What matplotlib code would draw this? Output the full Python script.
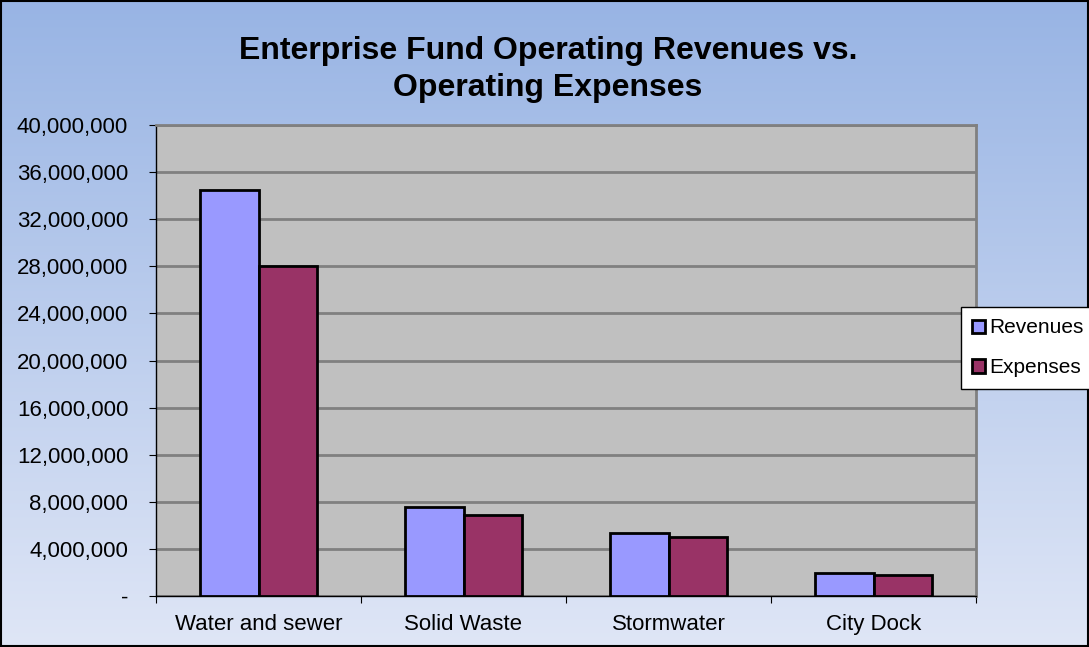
import matplotlib.pyplot as plt
import numpy as np
from matplotlib.ticker import FuncFormatter
from matplotlib.colors import LinearSegmentedColormap

plt.rcParams['font.family'] = ['Liberation Sans', 'DejaVu Sans']

categories = ['Water and sewer', 'Solid Waste', 'Stormwater', 'City Dock']
revenues = [34500000, 7550000, 5350000, 1950000]
expenses = [28000000, 6900000, 5000000, 1780000]

fig = plt.figure(figsize=(10.89, 6.47), dpi=100)

# gradient background
bg = fig.add_axes([0, 0, 1, 1], zorder=-10)
cmap = LinearSegmentedColormap.from_list('bg', ['#dfe6f6', '#98b4e4'])
bg.imshow(np.linspace(0, 1, 256).reshape(-1, 1), aspect='auto', cmap=cmap,
          origin='lower', extent=[0, 1, 0, 1])
bg.set_xlim(0, 1)
bg.set_ylim(0, 1)
bg.axis('off')
fig.patches.append(plt.Rectangle((0.001, 0.001), 0.998, 0.997, transform=fig.transFigure,
                                 fill=False, edgecolor='black', linewidth=1.5))

ax = fig.add_axes([156/1089, 1 - 596/647, (976-156)/1089, (596-125)/647])
ax.set_facecolor('#c0c0c0')

x = np.arange(len(categories))
w = 0.285
ax.bar(x - w/2, revenues, w, color='#9999ff', edgecolor='black', linewidth=2, label='Revenues', zorder=3)
ax.bar(x + w/2, expenses, w, color='#993366', edgecolor='black', linewidth=2, label='Expenses', zorder=3)

ax.set_xlim(-0.5, len(categories) - 0.5)
ax.set_ylim(0, 40000000)
ax.set_yticks(np.arange(0, 40000001, 4000000))
ax.yaxis.set_major_formatter(FuncFormatter(lambda v, p: '-' if v == 0 else f'{int(v):,}'))
ax.set_xticks(np.arange(len(categories) + 1) - 0.5, minor=False)
ax.set_xticklabels([])
ax.set_xticks(x, minor=True)
ax.set_xticklabels(categories, minor=True, fontsize=16)
ax.tick_params(axis='x', which='minor', length=0, pad=13)
ax.tick_params(axis='x', which='major', length=5, direction='out')
ax.tick_params(axis='y', labelsize=16, length=5, pad=15)
ax.yaxis.grid(True, color='#808080', linewidth=2)
ax.set_axisbelow(True)
for s in ['top', 'right']:
    ax.spines[s].set_color('#808080')
    ax.spines[s].set_linewidth(2)
for s in ['left', 'bottom']:
    ax.spines[s].set_color('black')
    ax.spines[s].set_linewidth(1)

fig.text(0.503, 0.892, 'Enterprise Fund Operating Revenues vs.\nOperating Expenses',
         ha='center', va='center', fontsize=23, fontweight='bold', linespacing=1.3)

leg = fig.legend(loc='upper left', bbox_to_anchor=(961/1089, 1 - 307/647), fontsize=15,
                 frameon=True, fancybox=False, edgecolor='black', framealpha=1,
                 handlelength=0.6, handleheight=0.6, handletextpad=0.2,
                 labelspacing=1.0, borderpad=0.55, borderaxespad=0)
leg.get_frame().set_linewidth(1)

fig.savefig('out.png', dpi=100)
